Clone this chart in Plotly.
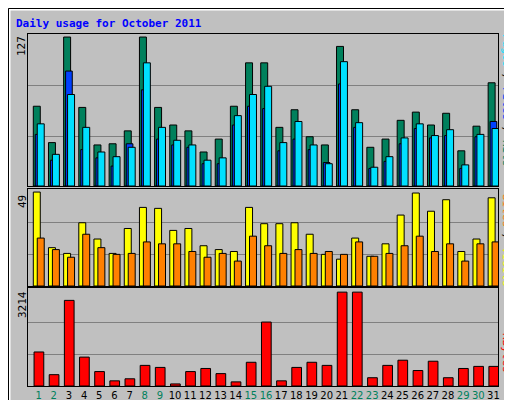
import plotly.graph_objects as go

days = list(range(1, 32))
hits = [68,37,127,67,35,36,47,127,67,52,47,29,40,68,105,105,50,65,42,35,119,65,33,40,56,63,52,62,30,51,88]
files = [53,27,78,50,29,25,33,105,50,39,35,22,24,60,78,85,37,55,35,19,106,54,16,25,41,53,43,48,18,44,49]
pages = [44,22,98,31,24,17,36,82,40,35,33,19,19,52,68,66,30,40,31,20,87,50,15,21,36,49,41,43,15,42,55]
sites = [49,20,17,33,24.5,17,30,41,40.5,29,30,21,19,18,41,32.5,32.5,33,27,16.5,14,25,15.5,22,37,48.5,39,45,18,24.5,46]
visits = [25,19,15,27,20,16.5,17,23,22,22,18,15,17,13,26,21,17,19,17,18,16.5,23,15.5,17,21,26,18,22,13,22,23]
kbytes = [1165,388,2931,989,494,177,247,706,636,71,494,600,424,141,812,2189,177,636,812,706,3214,3214,283,706,883,530,848,283,600,671,671]
weekend = [1,2,8,9,15,16,22,23,29,30]
max_hits, max_sites, max_kb = 127, 49, 3214

MONO = "DejaVu Sans Mono"
L, R, T, B = 20, 22, 26, 22
W, H = 512 - L - R, 400 - T - B
px = lambda x: (x - L) / W
py = lambda y: (400 - B - y) / H

fig = go.Figure()
def bar(y, color, off, w, ya):
    s = "" if ya == 1 else str(ya)
    fig.add_trace(go.Bar(x=days, y=y, marker=dict(color=color, line=dict(color="black", width=1)),
                         offset=off, width=w, xaxis="x" + s, yaxis="y" + s))

bar(hits, "#00805C", -0.15, 0.46, 1)
bar(pages, "#0040FF", -0.02, 0.44, 1)
bar(files, "#00E0FF", 0.11, 0.46, 1)
bar(sites, "#FFFF00", -0.15, 0.46, 2)
bar(visits, "#FF8000", 0.11, 0.46, 2)
bar(kbytes, "#FF0000", -0.1, 0.64, 3)

ticktext = [f'<span style="color:{"#00805C" if d in weekend else "black"}">{d}</span>' for d in days]
xcommon = dict(range=[0.5, 31.5], showline=True, linecolor="black", mirror=True, showgrid=False,
               zeroline=False, ticks="", automargin=False)
ycommon = dict(showline=True, linecolor="black", mirror=True, showgrid=True, gridcolor="#808080",
               zeroline=False, showticklabels=False, ticks="", automargin=False)

fig.update_layout(
    width=512, height=400, margin=dict(l=L, r=R, t=T, b=B, autoexpand=False),
    paper_bgcolor="#C0C0C0", plot_bgcolor="#C0C0C0", showlegend=False, barmode="overlay",
    font=dict(family=MONO, size=11, color="black"),
    xaxis=dict(**xcommon, anchor="y", showticklabels=False, matches="x3"),
    xaxis2=dict(**xcommon, anchor="y2", showticklabels=False, matches="x3"),
    xaxis3=dict(**xcommon, anchor="y3", tickvals=[d + 0.2 for d in days], ticktext=ticktext,
                tickangle=0, tickfont=dict(family="DejaVu Sans", size=10)),
    yaxis=dict(**ycommon, domain=[py(178), 1], range=[0, max_hits * 150 / 147], tickvals=[max_hits / 3, max_hits * 0.675]),
    yaxis2=dict(**ycommon, domain=[py(278), py(181)], range=[0, max_sites * 95 / 92], tickvals=[max_sites / 3, max_sites * 0.675]),
    yaxis3=dict(**ycommon, domain=[0, py(280)], range=[0, max_kb * 95 / 91], tickvals=[max_kb / 3, max_kb * 0.675]),
)

ann = [
    dict(x=px(6), y=py(15), text="<b>Daily usage for October 2011</b>", xanchor="left", yanchor="middle", font=dict(color="#0000FF", size=11)),
    dict(x=px(14), y=py(38), text="127", textangle=-90, xanchor="center", yanchor="middle"),
    dict(x=px(14), y=py(194), text="49", textangle=-90, xanchor="center", yanchor="middle"),
    dict(x=px(14), y=py(297), text="3214", textangle=-90, xanchor="center", yanchor="middle"),
    dict(x=px(499), y=py(92), textangle=90, xanchor="center", yanchor="middle",
         text='<span style="color:#00E0FF">Pages</span> / <span style="color:#0040FF">Files</span> / <span style="color:#00805C">Hits</span>'),
    dict(x=px(499), y=py(232), textangle=90, xanchor="center", yanchor="middle",
         text='<span style="color:#FF8000">Sites</span> / <span style="color:#FFFF00">Visits</span>'),
    dict(x=px(499), y=py(345), textangle=90, xanchor="center", yanchor="middle", text='<span style="color:#FF0000">KBytes</span>'),
]
for a in ann:
    a.update(xref="paper", yref="paper", showarrow=False)
fig.update_layout(annotations=ann)

shapes = [
    dict(type="rect", x0=px(505), x1=px(511), y0=py(399), y1=py(0), fillcolor="#808080", line=dict(width=0), layer="below"),
    dict(type="rect", x0=px(0), x1=px(511), y0=py(399), y1=py(394), fillcolor="#808080", line=dict(width=0), layer="below"),
    dict(type="line", x0=px(1.5), x1=px(1.5), y0=py(1), y1=py(398), line=dict(color="white", width=2)),
    dict(type="line", x0=px(1), x1=px(510), y0=py(1.5), y1=py(1.5), line=dict(color="white", width=2)),
    dict(type="rect", x0=px(0.5), x1=px(511.5), y0=py(399.5), y1=py(0.5), line=dict(color="black", width=1)),
]
for s in shapes:
    s.update(xref="paper", yref="paper")
fig.update_layout(shapes=shapes)

fig.write_html("out.html")
